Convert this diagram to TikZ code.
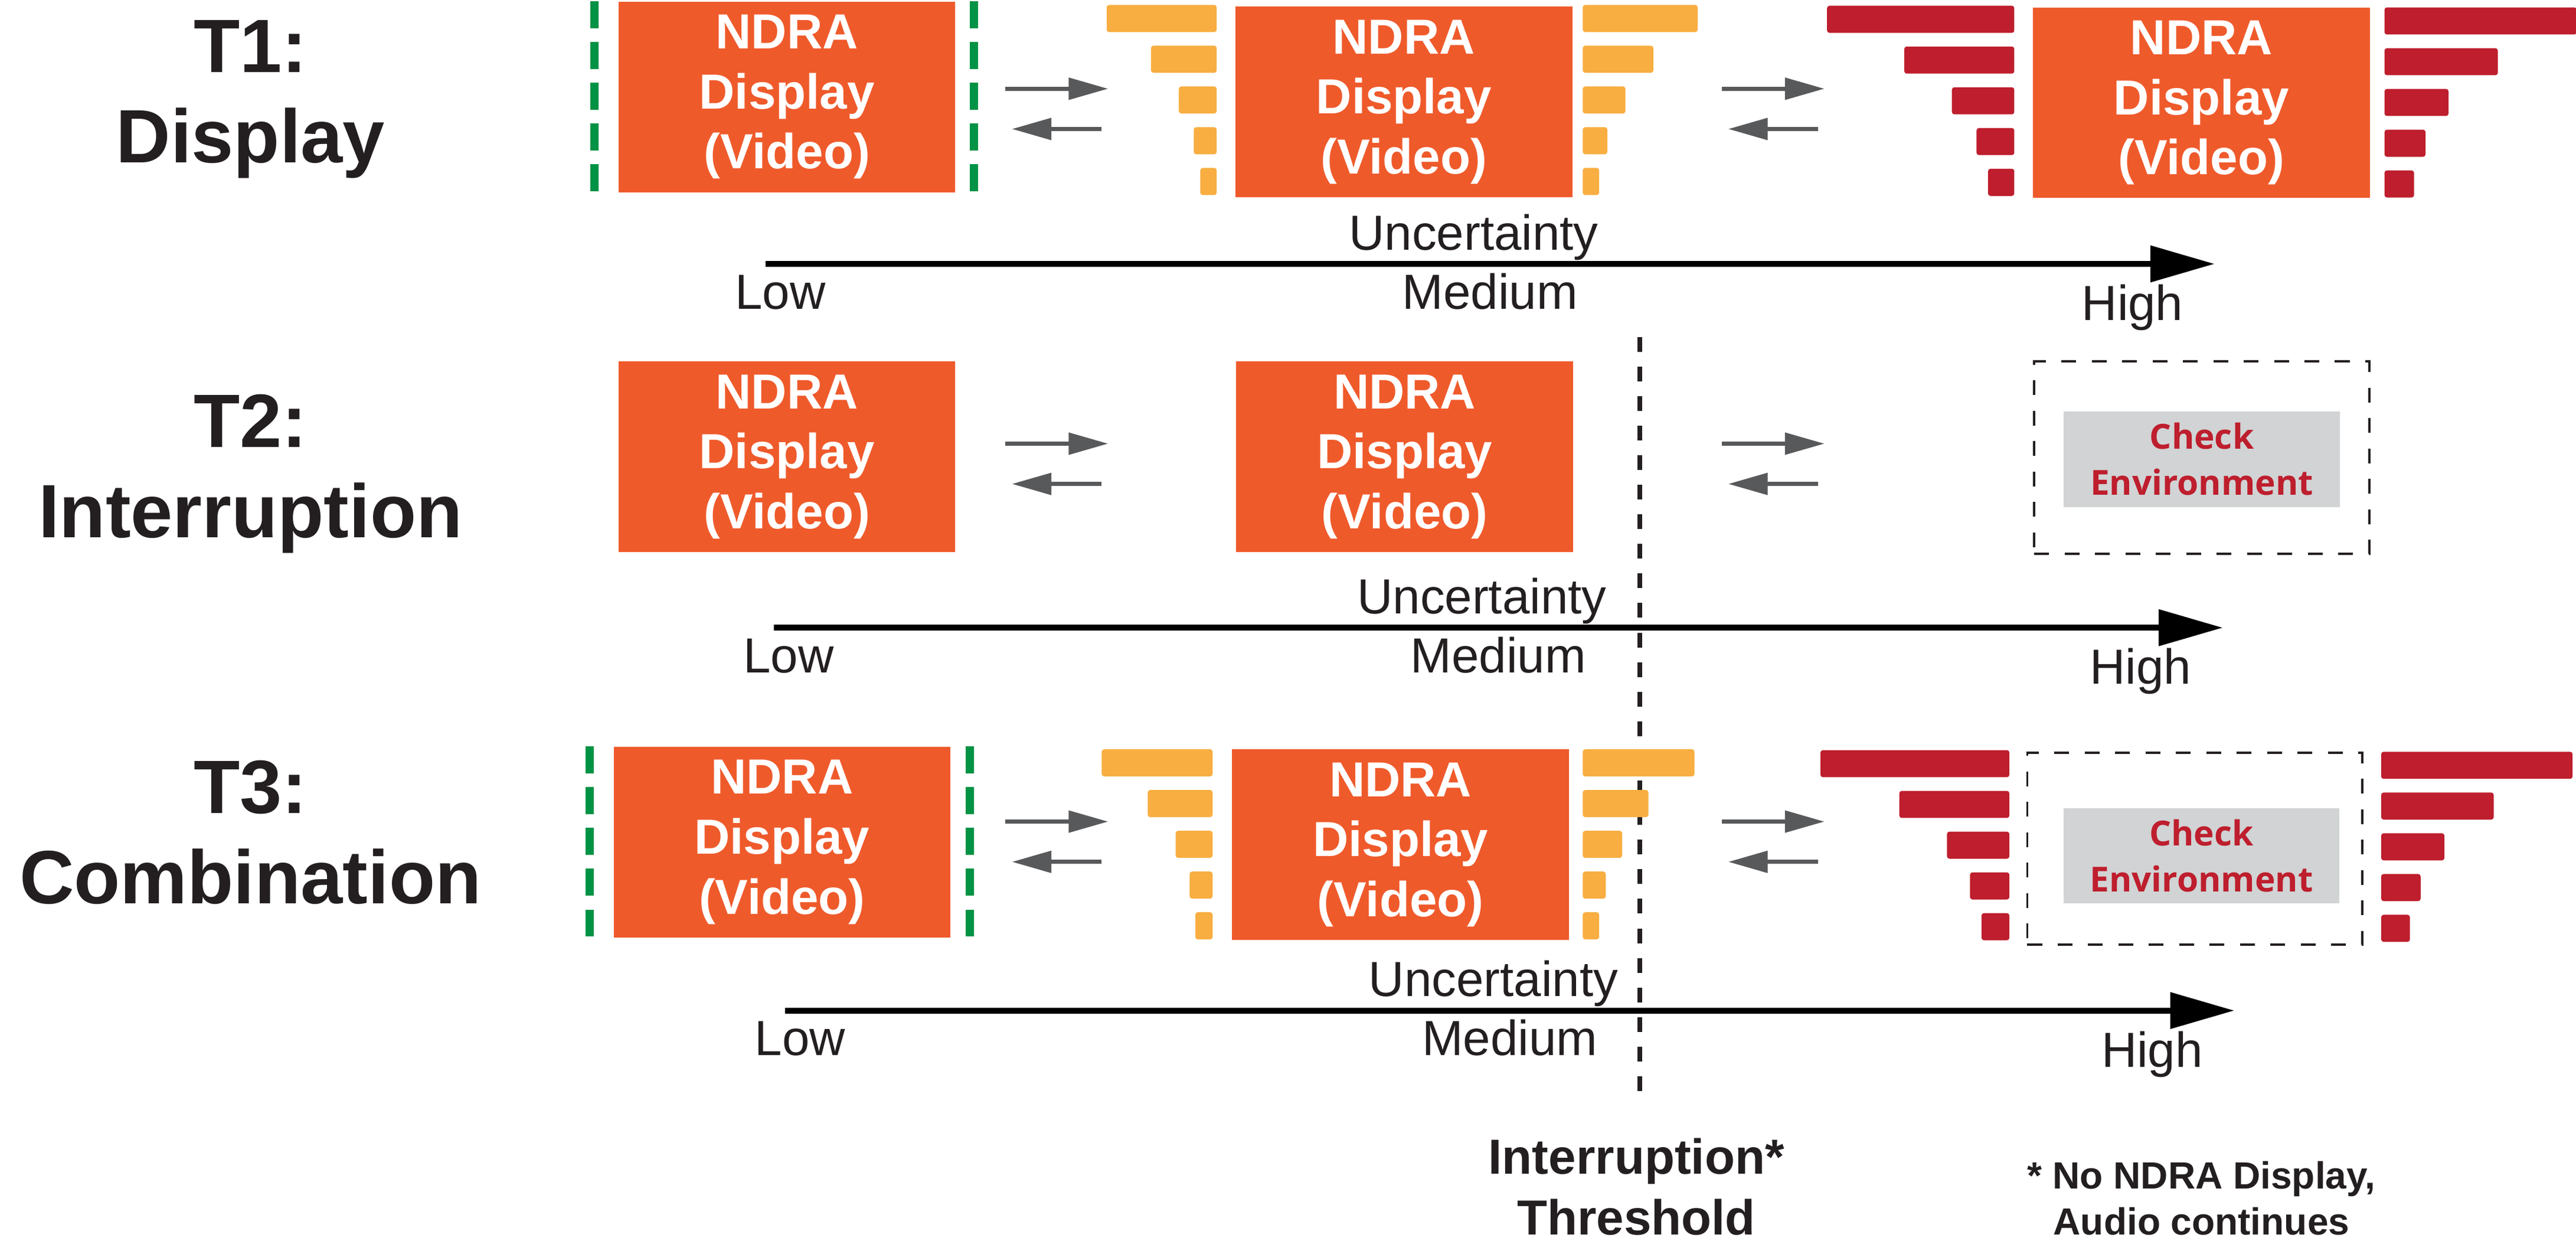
\documentclass[tikz,border=0pt]{standalone}
\usepackage{fontspec}
\setmainfont{Liberation Sans}
\newfontfamily\envfont{Open Sans}
\usetikzlibrary{positioning,calc,arrows.meta}

\definecolor{ndraorange}{RGB}{239,90,43}
\definecolor{lowbar}{RGB}{248,174,65}
\definecolor{highbar}{RGB}{190,30,45}
\definecolor{edgegreen}{RGB}{0,146,69}
\definecolor{envgray}{RGB}{209,211,212}
\definecolor{shiftgray}{RGB}{88,89,91}
\definecolor{inkblack}{RGB}{35,31,32}

\tikzset{
    ndra/.style={rectangle, fill=ndraorange, text=white, minimum width=205pt, minimum height=116pt,
        inner sep=0pt, align=center, font=\bfseries\fontsize{30}{36.5}\selectfont},
    envbox/.style={rectangle, draw=inkblack, line width=1.4pt, dash pattern=on 9pt off 9.5pt,
        minimum width=204pt, minimum height=117pt, inner sep=0pt},
    envtag/.style={rectangle, fill=envgray, text=highbar, minimum width=168pt, minimum height=58pt,
        inner sep=0pt, align=center, font=\envfont\bfseries\fontsize{21}{28}\selectfont},
    lowfunnel/.style={rectangle, fill=lowbar, rounded corners=1.5pt, minimum height=16.5pt, inner sep=0pt},
    highfunnel/.style={rectangle, fill=highbar, rounded corners=1.5pt, minimum height=16.5pt, inner sep=0pt},
    sidedash/.style={draw=edgegreen, line width=5pt, dash pattern=on 16.5pt off 8.3pt},
    shiftarrow/.style={draw=shiftgray, line width=2.4pt, -{Triangle[length=24pt,width=13pt]}},
    uncaxis/.style={draw=black, line width=3.6pt, -{Triangle[length=39pt,width=21.5pt]}},
    axtext/.style={anchor=base, text=inkblack, font=\fontsize{30}{36}\selectfont},
    rowtitle/.style={anchor=base, align=center, text=inkblack, font=\bfseries\fontsize{46}{55}\selectfont},
    thrline/.style={draw=inkblack, line width=2.9pt, dash pattern=on 9pt off 9pt},
    thrtext/.style={anchor=base, align=center, text=inkblack, font=\bfseries\fontsize{30}{37}\selectfont},
    notetext/.style={anchor=base, align=center, text=inkblack, font=\bfseries\fontsize{23}{28}\selectfont},
}

% one funnel of bars: name, start point, anchor, style, widths
\newcommand{\barfunnel}[5]{%
    \foreach \w [count=\i] in {#5}
        \node[#4, minimum width=\w pt, anchor=#3] (#1-\i) at ($(#2)+(0,{(\i-1)*24.8})$) {};
}

\begin{document}
\begin{tikzpicture}[x=1pt, y=-1pt]
    \useasboundingbox (0,0) rectangle (1568,763);

    % row titles (base = last line)
    \node[rowtitle] (t1) at (152.5,99) {T1:\\Display};
    \node[rowtitle] (t2) at (152.5,327) {T2:\\Interruption};
    \node[rowtitle] (t3) at (152.5,550) {T3:\\Combination};

    % interruption threshold
    \coordinate (thr-top) at (998,205);
    \coordinate (thr-bot) at (998,668);
    \draw[thrline] (thr-top) -- (thr-bot);
    \node[thrtext] (thr) at (996,751.5) {Interruption*\\Threshold};
    \node[notetext] (note) at (1340,751.5) {* No NDRA Display,\\Audio continues};

    % T1
    \node[ndra] (a1) at (479,59) {NDRA\\Display\\(Video)};
    \node[ndra] (b1) at (854.5,62) {NDRA\\Display\\(Video)};
    \node[ndra] (c1) at (1340,62.5) {NDRA\\Display\\(Video)};
    \draw[sidedash] ([xshift=-14.5pt]a1.north west) -- ([xshift=-14.5pt]a1.south west);
    \draw[sidedash] ([xshift=11pt]a1.north east) -- ([xshift=11pt]a1.south east);
    \coordinate (ol1) at ([xshift=-11pt,yshift=1pt]b1.north west);
    \coordinate (or1) at ([xshift=6pt,yshift=1pt]b1.north east);
    \coordinate (rl1) at ([xshift=-11pt,yshift=1pt]c1.north west);
    \coordinate (rr1) at ([xshift=8.5pt]c1.north east);
    \barfunnel{olb1}{ol1}{north east}{lowfunnel}{67,40,23,14,10}
    \barfunnel{orb1}{or1}{north west}{lowfunnel}{70,43,26,15,10}
    \barfunnel{rlb1}{rl1}{north east}{highfunnel}{114,67,38,23,16}
    \barfunnel{rrb1}{rr1}{north west}{highfunnel}{117,69,39,25,18}

    % T2
    \node[ndra] (a2) at (479,278) {NDRA\\Display\\(Video)};
    \node[ndra] (b2) at (855,278) {NDRA\\Display\\(Video)};
    \node[envbox] (e2) at (1340.2,278.5) {};
    \node[envtag] (g2) at (1340.2,279.5) {Check\\Environment};

    % T3
    \node[ndra] (a3) at (476,512.5) {NDRA\\Display\\(Video)};
    \node[ndra] (b3) at (852.5,514) {NDRA\\Display\\(Video)};
    \node[envbox] (e3) at (1336,516.5) {};
    \node[envtag] (g3) at (1340,520.8) {Check\\Environment};
    \draw[sidedash] ([xshift=-14.2pt]a3.north west) -- ([xshift=-14.2pt]a3.south west);
    \draw[sidedash] ([xshift=11.5pt]a3.north east) -- ([xshift=11.5pt]a3.south east);
    \coordinate (ol3) at ([xshift=-11.5pt]b3.north west);
    \coordinate (or3) at ([xshift=8pt]b3.north east);
    \coordinate (rl3) at ([xshift=-10pt,yshift=1pt]e3.north west);
    \coordinate (rr3) at ([xshift=10.5pt]e3.north east);
    \barfunnel{olb3}{ol3}{north east}{lowfunnel}{67.5,39.5,22.5,14,10.5}
    \barfunnel{orb3}{or3}{north west}{lowfunnel}{68,40,24,14,10}
    \barfunnel{rlb3}{rl3}{north east}{highfunnel}{115,67,38,24,17}
    \barfunnel{rrb3}{rr3}{north west}{highfunnel}{116.5,68.5,38.5,24,17.5}

    % arrows between the stages
    \foreach \r/\dy in {1/0, 2/216, 3/446}
        \foreach \p/\dx in {a/0, b/436} {
            \coordinate (\p\r-fwd-s) at (612+\dx,54+\dy);
            \coordinate (\p\r-fwd-e) at (674.5+\dx,54+\dy);
            \coordinate (\p\r-back-s) at (670.5+\dx,78.5+\dy);
            \coordinate (\p\r-back-e) at (616+\dx,78.5+\dy);
            \draw[shiftarrow] (\p\r-fwd-s) -- (\p\r-fwd-e);
            \draw[shiftarrow] (\p\r-back-s) -- (\p\r-back-e);
        }

    % uncertainty axes
    \foreach \r/\x/\y in {1/466/160.6, 2/471/382, 3/478/615} {
        \coordinate (lo\r) at (\x,\y);
        \coordinate (hi\r) at (\x+882,\y);
        \draw[uncaxis] (lo\r) -- (hi\r);
        \node[axtext] (unc\r) at (\x+431,\y-8.6) {Uncertainty};
        \node[axtext] (low\r) at (\x+9,\y+27.4) {Low};
        \node[axtext] (med\r) at (\x+441,\y+27.4) {Medium};
        \node[axtext] (high\r) at (\x+832,\y+34.4) {High};
    }
\end{tikzpicture}
\end{document}
